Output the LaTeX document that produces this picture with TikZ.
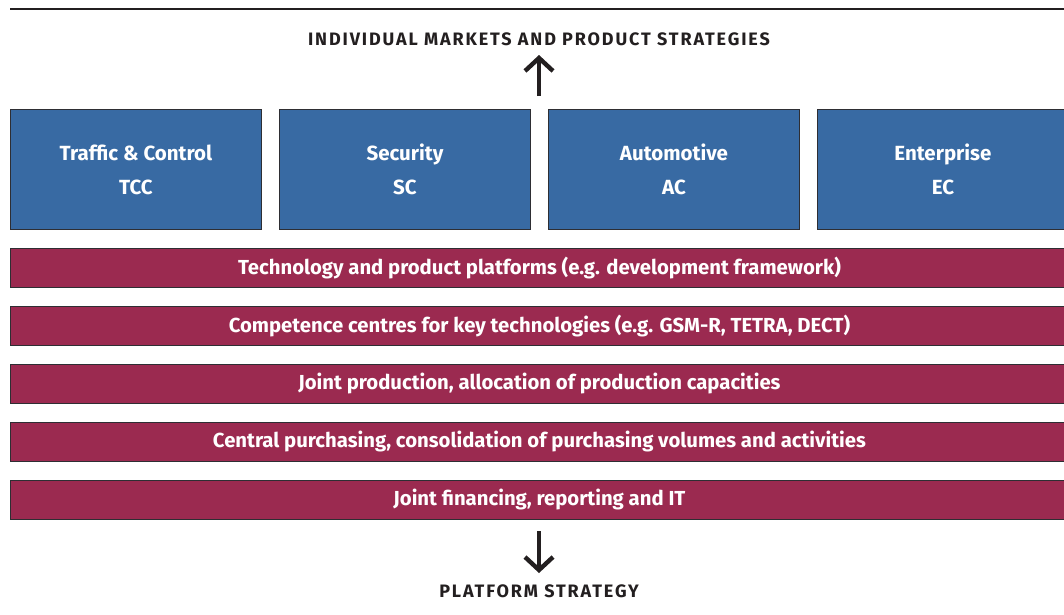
\documentclass[tikz,border=0pt]{standalone}
\usepackage{fontspec}
\setmainfont{Fira Sans}
\usetikzlibrary{arrows.meta}
\definecolor{unitblue}{HTML}{386AA3}
\definecolor{platred}{HTML}{9B2A50}
\definecolor{edge}{HTML}{2E2E33}
\definecolor{ink}{HTML}{231F20}
\tikzset{
  x=1pt, y=-1pt,
  unitbox/.style={draw=edge, line width=0.9pt, fill=unitblue, text=white,
    minimum width=251pt, minimum height=120pt, anchor=north west,
    inner sep=0pt, align=center, font=\bfseries\fontsize{20.5}{34}\selectfont},
  platbar/.style={draw=edge, line width=0.9pt, fill=platred, text=white,
    minimum width=1058pt, minimum height=39pt, anchor=north west,
    inner sep=0pt, font=\bfseries\fontsize{20.3}{22}\selectfont},
  headline/.style={text=ink, inner sep=0pt,
    font=\bfseries\fontsize{18}{20}\selectfont\addfontfeature{LetterSpace=10.5}},
  flow/.style={draw=ink, line width=4.4pt,
    -{Straight Barb[length=13pt,width=28pt,line width=4.4pt]}},
}
\begin{document}
\begin{tikzpicture}
\useasboundingbox (0,0) rectangle (1064,614);
\clip (0,0) rectangle (1064,614);
% rule across the top
\draw[ink, line width=2.2pt] (10,9) -- (1070,9);
% headings
\node[headline] (markets) at (539,39) {INDIVIDUAL MARKETS AND PRODUCT STRATEGIES};
\node[headline] (platform) at (539,591) {PLATFORM STRATEGY};
% business units
\node[unitbox] (tcc) at (10,109)  {Traffic \& Control\\TCC};
\node[unitbox] (sc)  at (279,109) {Security\\SC};
\node[unitbox] (ac)  at (548,109) {Automotive\\AC};
\node[unitbox] (ec)  at (817,109) {Enterprise\\EC};
% shared platform layers
\node[platbar] (p1) at (10,248) {Technology and product platforms (e.g. development framework)};
\node[platbar] (p2) at (10,306) {Competence centres for key technologies (e.g. GSM-R, TETRA, DECT)};
\node[platbar] (p3) at (10,364) {Joint production, allocation of production capacities};
\node[platbar] (p4) at (10,422) {Central purchasing, consolidation of purchasing volumes and activities};
\node[platbar] (p5) at (10,480) {Joint financing, reporting and IT};
% arrows
\coordinate (upfoot) at (539,96);
\coordinate (downfoot) at (539,531);
\draw[flow] (upfoot) -- (markets.south |- 0,55);
\draw[flow] (downfoot) -- (platform.north |- 0,573);
\end{tikzpicture}
\end{document}
